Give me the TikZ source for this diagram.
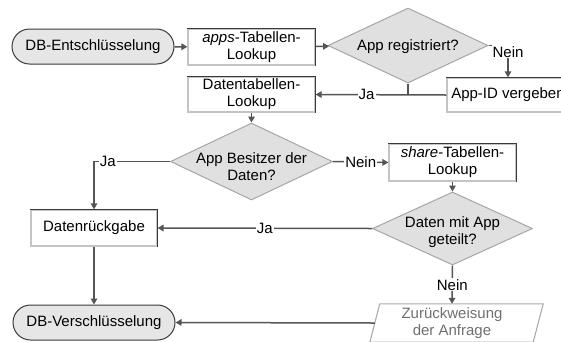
\documentclass[tikz,border=0pt]{standalone}
\usepackage{fontspec}
\setmainfont{Liberation Sans}
\usetikzlibrary{arrows.meta,shapes.geometric,shapes.misc}
\definecolor{ln}{HTML}{555555}
\definecolor{dk}{HTML}{3A3A3A}
\definecolor{lt}{HTML}{C4C4C4}
\definecolor{dfill}{HTML}{E0E0E0}
\definecolor{tfill}{HTML}{E6E6E6}
\definecolor{rejtext}{HTML}{707070}
\begin{document}
\begin{tikzpicture}[x=1pt,y=-1pt,
  font=\fontsize{15}{17}\selectfont,
  conn/.style={draw=ln, line width=1.5pt, -{Triangle[length=6pt,width=6.5pt]}},
  plain/.style={draw=ln, line width=1.5pt},
  term/.style={rounded rectangle, fill=tfill, draw=dk, line width=1pt, minimum width=162pt, minimum height=35pt, inner sep=0pt},
  procbox/.style={rectangle, fill=white, draw=lt, line width=1.2pt, align=center, inner sep=0pt},
  dia/.style={diamond, fill=dfill, draw=gray!70, line width=1pt, inner sep=0pt},
  darkedge/.style={draw=dk, line width=1.2pt},
  lbl/.style={fill=white, inner sep=1pt}]
\clip (0,0) rectangle (561,341);
\fill[white] (0,0) rectangle (561,341);

% nodes
\node[term] (enc) at (93,46.5) {DB-Entschlüsselung};
\node[procbox, minimum width=127pt, minimum height=36pt] (apps) at (251.5,47) {\textit{apps}-Tabellen-\\Lookup};
\node[dia, minimum width=160pt, minimum height=75pt, label={[yshift=-1pt]center:App registriert?}] (reg) at (408,45.5) {};
\node[procbox, minimum width=122pt, minimum height=34pt] (appid) at (508,95) {App-ID vergeben};
\node[procbox, minimum width=127pt, minimum height=35pt] (datl) at (251.5,94.5) {Datentabellen-\\Lookup};
\node[dia, minimum width=162pt, minimum height=77pt, label={[yshift=-5pt, align=center]center:App Besitzer der\\Daten?}] (own) at (251.5,161.5) {};
\node[procbox, minimum width=127pt, minimum height=37pt] (share) at (452.5,162.5) {\textit{share}-Tabellen-\\Lookup};
\node[dia, minimum width=160pt, minimum height=73pt, label={[yshift=-4pt, align=center]center:Daten mit App\\geteilt?}] (dat) at (452.5,228.5) {};
\node[procbox, minimum width=126pt, minimum height=36pt] (ret) at (94,228) {Datenrückgabe};
\node[term] (dec) at (94,322.5) {DB-Verschlüsselung};
\node[rectangle, minimum width=163pt, minimum height=38pt, inner sep=0pt, align=center, text=rejtext] (rej) at (452,323) {Zurückweisung\\der Anfrage};
\draw[draw=gray!65, line width=1.1pt] ([xshift=9.5pt]rej.north west) -- ([xshift=9.5pt]rej.north east) -- ([xshift=-0.5pt]rej.south east) -- ([xshift=-0.5pt]rej.south west) -- cycle;

% 3D dark edges of process boxes
\foreach \n in {apps,datl,appid,share,ret}
  \draw[darkedge] (\n.north west) -- (\n.north east) -- (\n.south east);

% connectors
\draw[conn] (enc) -- (apps);
\draw[conn] (apps) -- (reg);
\draw[conn] (reg.east) -| node[lbl, pos=0.6]{Nein} (appid.north);
\draw[plain] (reg.south) -- (reg.south |- appid.west);
\draw[conn] (appid.west) -- node[lbl, pos=0.61]{Ja} (datl.east);
\draw[conn] (datl.south) -- (own.north);
\draw[conn] (own.west) -| node[lbl, pos=0.41]{Ja} (ret.north);
\draw[conn] (own.east) -- node[lbl]{Nein} (share.west);
\draw[conn] (share.south) -- (dat.north);
\draw[conn] (dat.west) -- node[lbl]{Ja} (ret.east);
\draw[conn] (dat.south) -- node[lbl]{Nein} (rej.north);
\draw[conn] (ret.south) -- (dec.north);
\draw[conn] ([xshift=4.5pt]rej.west) -- (dec.east);
\end{tikzpicture}
\end{document}
